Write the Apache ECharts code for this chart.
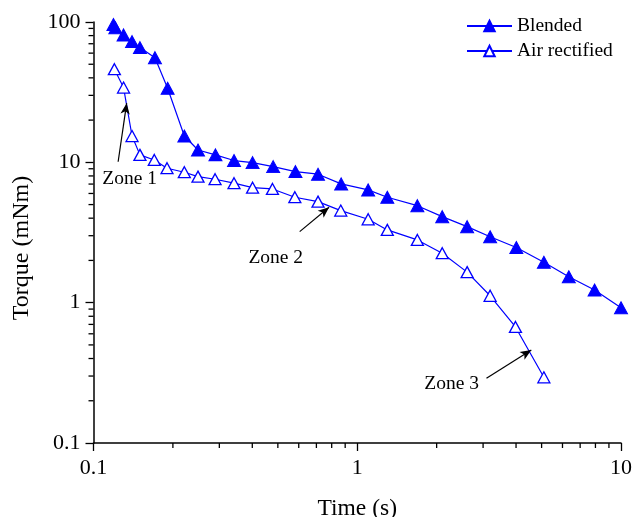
<!DOCTYPE html>
<html>
<head>
<meta charset="utf-8">
<script src="https://cdn.jsdelivr.net/npm/echarts@6/dist/echarts.min.js"></script>
<style>html,body{margin:0;padding:0;background:#fff}#c{width:633px;height:517px}</style>
</head>
<body>
<div id="c"></div>
<script>
// ---- data ----
var timeBlended = [0.119, 0.121, 0.13, 0.14, 0.15, 0.171, 0.191, 0.221, 0.249, 0.29, 0.341, 0.401, 0.48, 0.583, 0.71, 0.869, 1.10, 1.30, 1.69, 2.10, 2.61, 3.19, 4.01, 5.10, 6.34, 7.94, 10.0];
var torqueBlended = [96, 91, 80.9, 72.5, 65.7, 55.7, 33.7, 15.4, 12.25, 11.3, 10.3, 9.95, 9.32, 8.59, 8.23, 7.02, 6.36, 5.64, 4.91, 4.10, 3.48, 2.95, 2.47, 1.94, 1.53, 1.23, 0.92];
var timeAir = [0.12, 0.13, 0.14, 0.15, 0.17, 0.19, 0.221, 0.249, 0.289, 0.341, 0.401, 0.477, 0.58, 0.71, 0.866, 1.10, 1.30, 1.69, 2.10, 2.61, 3.19, 3.98, 5.10];
var torqueAir = [46.1, 34.1, 15.4, 11.3, 10.4, 9.08, 8.5, 7.91, 7.58, 7.10, 6.60, 6.46, 5.64, 5.25, 4.53, 3.93, 3.30, 2.80, 2.25, 1.65, 1.12, 0.671, 0.294];
var seriesNames = ['Blended', 'Air rectified'];
var xAxisTitle = 'Time (s)';
var yAxisTitle = 'Torque (mNm)';
var zoneNames = ['Zone 1', 'Zone 2', 'Zone 3'];
var zoneTextAt = [[0.137, 7.61], [0.491, 2.08], [2.28, 0.263]];
var arrowTail = [[0.124, 10.1], [0.605, 3.21], [3.09, 0.289]];
var arrowTip = [[0.1336, 26.4], [0.782, 4.79], [4.57, 0.46]];
var xMinorTicks = [0.2, 0.3, 0.4, 0.5, 0.6, 0.7, 0.8, 0.9, 2, 3, 4, 5, 6, 7, 8, 9];
var yMinorTicks = [0.2, 0.3, 0.4, 0.5, 0.6, 0.7, 0.8, 0.9, 2, 3, 4, 5, 6, 7, 8, 9, 20, 30, 40, 50, 60, 70, 80, 90];
var xMin = 0.1, xMax = 10, yMin = 0.1, yMax = 100;

var FONT = 'Liberation Serif';
var BLUE = '#0000ff';

function zip(a, b) { return a.map(function (v, i) { return [v, b[i]]; }); }

var chart = echarts.init(document.getElementById('c'), null, {renderer: 'canvas'});

var tickStyle = {stroke: '#000', lineWidth: 1.3};
var option = {
  animation: false,
  backgroundColor: '#fff',
  grid: {left: 93.5, top: 22, right: 12, bottom: 74, containLabel: false, outerBoundsMode: 'none'},
  legend: {
    data: seriesNames,
    orient: 'vertical',
    left: 466, top: 16, padding: 0,
    itemWidth: 45, itemHeight: 13, itemGap: 5,
    textStyle: {fontFamily: FONT, fontSize: 19.5, color: '#000'}
  },
  graphic: [{
    type: 'text', x: 22, y: 248, rotation: Math.PI / 2, silent: true,
    style: {text: yAxisTitle, fontFamily: FONT, fontSize: 24, fill: '#000', align: 'center', verticalAlign: 'middle'}
  }],
  xAxis: {
    type: 'log', logBase: 10, min: xMin, max: xMax,
    name: xAxisTitle, nameLocation: 'middle', nameGap: 54,
    nameTextStyle: {fontFamily: FONT, fontSize: 23.5, color: '#000'},
    axisLine: {show: true, lineStyle: {color: '#000', width: 1.5}},
    axisTick: {show: true, inside: false, length: 8, lineStyle: {color: '#000', width: 1.3}},
    axisLabel: {fontFamily: FONT, fontSize: 22, color: '#000', margin: 14},
    splitLine: {show: false}
  },
  yAxis: {
    type: 'log', logBase: 10, min: yMin, max: yMax,
    axisLine: {show: true, lineStyle: {color: '#000', width: 1.5}},
    axisTick: {show: true, inside: false, length: 8, lineStyle: {color: '#000', width: 1.3}},
    axisLabel: {fontFamily: FONT, fontSize: 22, color: '#000', margin: 13},
    splitLine: {show: false}
  },
  series: [
    {
      name: seriesNames[0], type: 'line', data: zip(timeBlended, torqueBlended),
      symbol: 'triangle', symbolSize: [13, 12],
      lineStyle: {color: BLUE, width: 1.2},
      itemStyle: {color: BLUE, borderColor: BLUE, borderWidth: 1},
      z: 3
    },
    {
      name: seriesNames[1], type: 'line', data: zip(timeAir, torqueAir),
      symbol: 'triangle', symbolSize: [12, 11],
      lineStyle: {color: BLUE, width: 1.2},
      itemStyle: {color: '#fff', borderColor: BLUE, borderWidth: 1.3},
      z: 3
    },
    {
      name: 'annotations', type: 'line', data: [], silent: true,
      markLine: {
        silent: true, animation: false,
        symbol: ['none', 'arrow'], symbolSize: [7, 11],
        lineStyle: {color: '#000', width: 1.2, type: 'solid'},
        label: {show: false},
        data: arrowTail.map(function (t, i) {
          return [{coord: t}, {coord: arrowTip[i]}];
        })
      },
      markPoint: {
        silent: true, animation: false,
        symbol: 'circle', symbolSize: 0,
        label: {show: true, position: 'inside', formatter: '{b}', fontFamily: FONT, fontSize: 19.5, color: '#000'},
        data: zoneNames.map(function (n, i) { return {name: n, coord: zoneTextAt[i]}; })
      }
    },
    {
      name: 'xminor', type: 'custom', silent: true, clip: false,
      data: xMinorTicks.map(function (v) { return [v, yMin]; }),
      renderItem: function (params, api) {
        var p = api.coord([api.value(0), api.value(1)]);
        return {type: 'line', shape: {x1: p[0], y1: p[1], x2: p[0], y2: p[1] + 5}, style: tickStyle};
      }
    },
    {
      name: 'yminor', type: 'custom', silent: true, clip: false,
      data: yMinorTicks.map(function (v) { return [xMin, v]; }),
      renderItem: function (params, api) {
        var p = api.coord([api.value(0), api.value(1)]);
        return {type: 'line', shape: {x1: p[0] - 5, y1: p[1], x2: p[0], y2: p[1]}, style: tickStyle};
      }
    }
  ]
};
chart.setOption(option);
</script>
</body>
</html>
